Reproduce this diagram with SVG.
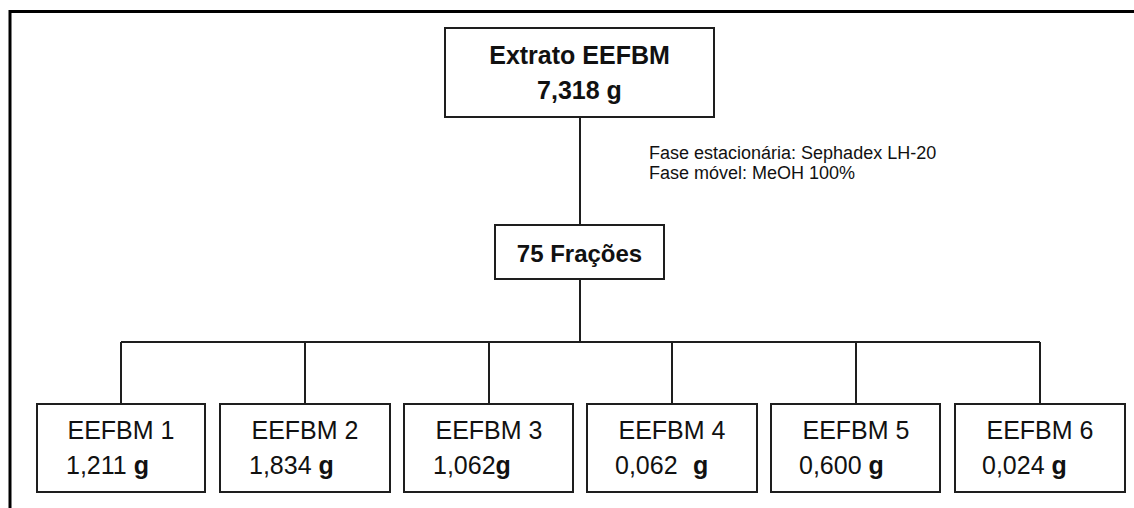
<svg xmlns="http://www.w3.org/2000/svg" width="1134" height="508" viewBox="0 0 1134 508">
<style>
.box{fill:#fff;stroke:#1e1e1e;stroke-width:2}
.t{font-family:"Liberation Sans",Arial,sans-serif;fill:#111}
.b{font-weight:bold}
.c{stroke:#1e1e1e;stroke-width:2;fill:none}
</style>
<rect width="1134" height="508" fill="#fff"/>
<g id="frame"><path d="M10 508 V11.5 H1134" fill="none" stroke="#000" stroke-width="3"/></g>
<g id="connectors">
<line class="c" x1="580" y1="117" x2="580" y2="225"/>
<line class="c" x1="580" y1="279" x2="580" y2="342" stroke-width="3"/>
<line class="c" x1="121" y1="342" x2="1040" y2="342"/>
<line class="c" x1="121" y1="342" x2="121" y2="404"/>
<line class="c" x1="305" y1="342" x2="305" y2="404"/>
<line class="c" x1="489" y1="342" x2="489" y2="404"/>
<line class="c" x1="672" y1="342" x2="672" y2="404"/>
<line class="c" x1="856" y1="342" x2="856" y2="404"/>
<line class="c" x1="1040" y1="342" x2="1040" y2="404"/>
</g>
<g id="extrato">
<rect class="box" x="445" y="28" width="269" height="89"/>
<text class="t b" x="579.5" y="64" font-size="25" text-anchor="middle">Extrato EEFBM</text>
<text class="t b" x="579.5" y="99" font-size="25" text-anchor="middle">7,318 g</text>
</g>
<g id="note">
<text class="t" x="649" y="159" font-size="18">Fase estacionária: Sephadex LH-20</text>
<text class="t" x="649" y="179" font-size="18">Fase móvel: MeOH 100%</text>
</g>
<g id="fracoes">
<rect class="box" x="495" y="225" width="169" height="54"/>
<text class="t b" x="579.5" y="262" font-size="24" text-anchor="middle">75 Frações</text>
</g>
<g id="eefbm1">
<rect class="box" x="37" y="404" width="168" height="88"/>
<text class="t" x="121" y="439" font-size="25" text-anchor="middle">EEFBM 1</text>
<text class="t" x="66" y="474" font-size="25">1,211 <tspan class="b">g</tspan></text>
</g>
<g id="eefbm2">
<rect class="box" x="220" y="404" width="170" height="88"/>
<text class="t" x="305" y="439" font-size="25" text-anchor="middle">EEFBM 2</text>
<text class="t" x="249" y="474" font-size="25">1,834 <tspan class="b">g</tspan></text>
</g>
<g id="eefbm3">
<rect class="box" x="404" y="404" width="169" height="88"/>
<text class="t" x="489" y="439" font-size="25" text-anchor="middle">EEFBM 3</text>
<text class="t" x="433" y="474" font-size="25">1,062<tspan class="b">g</tspan></text>
</g>
<g id="eefbm4">
<rect class="box" x="587" y="404" width="170" height="88"/>
<text class="t" x="672" y="439" font-size="25" text-anchor="middle">EEFBM 4</text>
<text class="t" x="615" y="474" font-size="25">0,062  <tspan class="b" x="693">g</tspan></text>
</g>
<g id="eefbm5">
<rect class="box" x="771" y="404" width="169" height="88"/>
<text class="t" x="856" y="439" font-size="25" text-anchor="middle">EEFBM 5</text>
<text class="t" x="799" y="474" font-size="25">0,600 <tspan class="b">g</tspan></text>
</g>
<g id="eefbm6">
<rect class="box" x="955" y="404" width="170" height="88"/>
<text class="t" x="1040" y="439" font-size="25" text-anchor="middle">EEFBM 6</text>
<text class="t" x="982" y="474" font-size="25">0,024 <tspan class="b">g</tspan></text>
</g>
</svg>
